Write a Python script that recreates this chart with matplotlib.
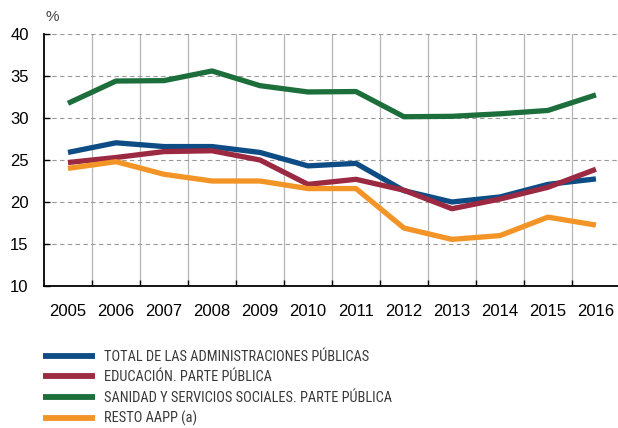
import numpy as np
import matplotlib
matplotlib.use('Agg')
import matplotlib.pyplot as plt
from matplotlib.ticker import FixedLocator

plt.rcParams['font.family'] = ['Liberation Sans', 'DejaVu Sans']

years = ['2005', '2006', '2007', '2008', '2009', '2010', '2011', '2012', '2013', '2014', '2015', '2016']
total = [25.9, 27.05, 26.6, 26.6, 25.9, 24.3, 24.6, 21.35, 20.0, 20.6, 22.1, 22.75]
educacion = [24.7, 25.3, 26.0, 26.1, 25.0, 22.1, 22.7, 21.4, 19.2, 20.35, 21.75, 23.9]
sanidad = [31.75, 34.4, 34.45, 35.6, 33.85, 33.1, 33.15, 30.15, 30.2, 30.5, 30.9, 32.75]
resto = [24.0, 24.8, 23.3, 22.5, 22.5, 21.6, 21.6, 16.9, 15.55, 16.0, 18.2, 17.25]

labels = ['TOTAL DE LAS ADMINISTRACIONES PÚBLICAS',
          'EDUCACIÓN. PARTE PÚBLICA',
          'SANIDAD Y SERVICIOS SOCIALES. PARTE PÚBLICA',
          'RESTO AAPP (a)']
colors = ['#0d4c85', '#9c2942', '#1c6e3b', '#f39426']

fig = plt.figure(figsize=(6.18, 4.28), dpi=100)
ax = fig.add_axes([44 / 618, 1 - 286 / 428, 574 / 618, 252 / 428])

x = np.arange(len(years))
lines = []
for vals, c, lab in zip([total, educacion, sanidad, resto], colors, labels):
    ln, = ax.plot(x, vals, color=c, linewidth=3.8, label=lab, solid_capstyle='butt', zorder=3)
    lines.append(ln)

ax.set_xlim(-0.5, 11.46)
ax.set_ylim(10, 40)
ax.set_yticks(np.arange(10, 41, 5))
ax.set_xticks(x)
ax.set_xticklabels(years)
ax.xaxis.set_minor_locator(FixedLocator(np.arange(0.5, 11.5, 1)))

ax.tick_params(axis='x', which='major', length=0, pad=13, labelsize=12)
ax.tick_params(axis='x', which='minor', direction='in', length=4, width=1, color='black')
ax.tick_params(axis='y', direction='in', length=4, width=1, pad=11, labelsize=12)

ax.grid(axis='y', linestyle=(0, (4, 3)), color='#9a9a9a', linewidth=0.8)
ax.grid(axis='x', which='minor', linestyle='-', color='#b5b5b5', linewidth=0.9)
ax.set_axisbelow(True)

for s in ['top', 'right']:
    ax.spines[s].set_visible(False)
ax.spines['left'].set_linewidth(1.3)
ax.spines['bottom'].set_linewidth(1.3)

fig.text(46 / 618, 1 - 17 / 428, '%', fontsize=11, color='#444444', ha='left', va='center')

leg = fig.legend(handles=lines, loc='upper left', bbox_to_anchor=(43 / 618, 1 - 350 / 428),
                 frameon=False, handlelength=3.6, handletextpad=0.62, borderpad=0,
                 labelspacing=0.44, borderaxespad=0,
                 prop={'family': ['Roboto Condensed', 'Archivo Narrow', 'Liberation Sans'], 'size': 10.4})
for t in leg.get_texts():
    t.set_color('#3a3a3a')
for h in leg.legend_handles:
    h.set_linewidth(4.2)

fig.savefig('out.png', dpi=100)
